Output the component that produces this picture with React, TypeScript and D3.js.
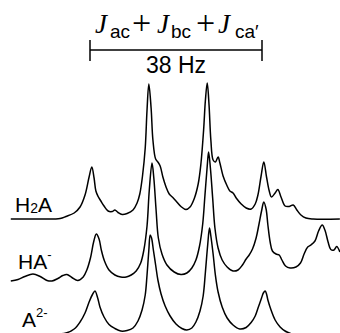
import React from 'react';
import * as d3 from 'd3';

// spectra: [offset in Hz, intensity in a.u.]
const h2a: [number, number][] = [
  [-17.5, 0], [-11.1, 0], [-6.6, 0.5], [-5.3, 2.5], [-3.5, 6], [-2.2, 12], [-1.1, 24],
  [-0.2, 42], [0.4, 52], [0.9, 41], [1.3, 28], [1.8, 22.5], [2.4, 18], [3.1, 13],
  [4.0, 8], [4.9, 7.5], [5.5, 9], [6.2, 6.5], [7.1, 4.5], [8.2, 5.5], [9.5, 9],
  [10.4, 16], [11.0, 25], [11.6, 43], [12.2, 71], [12.6, 109], [13.0, 135], [13.5, 111],
  [13.9, 79], [14.5, 60], [15.0, 57], [15.5, 53], [16.1, 42], [16.8, 32], [17.5, 25],
  [18.3, 21.5], [19.0, 18], [20.1, 12.5], [21.2, 9.5], [22.1, 12], [23.0, 20], [23.9, 35],
  [24.5, 55], [25.1, 89], [25.5, 119], [25.9, 136], [26.3, 114], [26.7, 79], [27.2, 59],
  [27.7, 57], [28.3, 62], [28.7, 56], [29.4, 43], [30.3, 33], [30.9, 28], [31.6, 26],
  [32.3, 21], [33.4, 15], [34.5, 11], [35.6, 10], [36.5, 15], [37.1, 24], [37.8, 43],
  [38.4, 57], [39.0, 42], [39.6, 28], [40.1, 22], [40.9, 26], [41.5, 29.5], [42.2, 22],
  [43.1, 13], [44.0, 12.5], [44.9, 14], [45.7, 9], [46.6, 4], [47.7, 1], [49.3, 0], [55.2, 0],
];

const ha: [number, number][] = [
  [-17.5, 0], [-15.9, 1.5], [-14.4, 4.5], [-12.6, 7], [-11.0, 4.5], [-9.5, 0.5], [-8.4, 0],
  [-7.1, 2.5], [-6.0, 5.5], [-5.1, 6.5], [-4.0, 3.5], [-2.7, 0.5], [-1.5, 4], [-0.7, 11],
  [0.1, 23], [0.8, 39], [1.4, 47], [2.0, 42], [2.5, 31], [3.2, 20], [4.2, 11], [5.5, 6],
  [6.8, 4], [8.0, 4], [9.1, 6], [10.2, 10], [11.2, 18], [11.9, 31], [12.6, 55], [13.1, 91],
  [13.7, 118], [14.1, 103], [14.6, 71], [15.1, 43], [15.9, 27], [17.0, 16], [18.6, 9],
  [20.1, 6.5], [21.4, 8], [22.5, 13], [23.4, 21], [24.2, 35], [24.9, 57], [25.4, 86],
  [25.9, 115], [26.2, 129], [26.6, 113], [27.1, 83], [27.6, 53], [28.3, 33], [29.2, 21],
  [30.3, 14], [31.6, 10], [32.7, 11], [33.6, 15.5], [34.5, 22], [35.1, 25.5], [35.9, 32],
  [36.7, 43], [37.3, 56], [37.9, 70], [38.4, 79], [38.9, 72], [39.3, 56], [39.8, 39],
  [40.3, 30], [41.1, 27], [41.8, 26], [42.4, 21], [43.2, 15], [44.2, 13], [45.5, 14],
  [46.5, 18], [47.3, 27], [48.1, 34], [48.8, 36], [49.7, 40], [50.5, 50], [51.3, 56],
  [51.9, 51], [52.6, 39], [53.2, 31.5], [53.9, 31], [54.5, 34.5], [55.2, 29],
];

const a2: [number, number][] = [
  [-7.1, 0], [-5.3, 1], [-3.5, 5], [-2.2, 12], [-1.1, 21], [-0.2, 32], [0.6, 40], [1.1, 43],
  [1.7, 36], [2.2, 27], [3.1, 17], [4.2, 9.5], [5.5, 5.5], [6.8, 3], [8.2, 3.5], [9.5, 6],
  [10.6, 13], [11.5, 24], [12.2, 39], [12.6, 59], [13.0, 84], [13.3, 99], [13.6, 96],
  [14.0, 84], [14.5, 69], [15.0, 54], [15.7, 40], [16.6, 28], [17.7, 18], [19.0, 10],
  [20.3, 5.5], [21.4, 4], [22.5, 6], [23.4, 12], [24.3, 23], [25.0, 38], [25.5, 62],
  [26.0, 89], [26.4, 106], [26.7, 98], [27.2, 80], [27.7, 59], [28.3, 42], [29.2, 27],
  [30.3, 16], [31.6, 9], [33.1, 5], [34.5, 6.5], [35.6, 11.5], [36.5, 18], [37.2, 27],
  [37.9, 36], [38.3, 41], [38.7, 43], [39.0, 40], [39.3, 34], [40.0, 24], [40.9, 14],
  [42.0, 7], [43.1, 3], [44.6, 0],
];

const couplingSum = 38; // Hz

const traces = [
  { data: h2a, base: 219, label: 'H', sub: '2', tail: 'A', sup: '', lx: 15, ly: 212 },
  { data: ha, base: 281, label: 'HA', sub: '', tail: '', sup: '-', lx: 18, ly: 269 },
  { data: a2, base: 334, label: 'A', sub: '', tail: '', sup: '2-', lx: 22, ly: 327 },
];

const W = 340;
const H = 333;

export default function App() {
  const x = d3.scaleLinear().domain([0, couplingSum]).range([90, 262]);
  const amp = d3.scaleLinear().domain([0, 140]).range([0, 140]);

  const sans = 'Liberation Sans, Arial, Helvetica, sans-serif';
  const serif = 'Liberation Serif, Times New Roman, serif';

  const x0 = x(0);
  const x1 = x(couplingSum);

  return (
    <svg width={W} height={H} style={{ position: 'absolute', left: 0, top: 0, background: '#fff' }}>
      {/* title */}
      <g fill="#000">
        <text x={95} y={33} fontFamily={serif} fontStyle="italic" fontSize={27}>J</text>
        <text x={110} y={38} fontFamily={sans} fontSize={19}>ac</text>
        <text x={132} y={34} fontFamily={serif} fontSize={34}>+</text>
        <text x={157} y={33} fontFamily={serif} fontStyle="italic" fontSize={27}>J</text>
        <text x={171} y={38} fontFamily={sans} fontSize={19}>bc</text>
        <text x={196} y={34} fontFamily={serif} fontSize={34}>+</text>
        <text x={218} y={33} fontFamily={serif} fontStyle="italic" fontSize={27}>J</text>
        <text x={235} y={38} fontFamily={sans} fontSize={19}>ca′</text>
      </g>

      {/* bracket */}
      <g stroke="#000" strokeWidth={1.5}>
        <line x1={x0} x2={x1} y1={50} y2={50} />
        <line x1={x0} x2={x0} y1={40} y2={61} />
        <line x1={x1} x2={x1} y1={40} y2={61} />
      </g>
      <text x={(x0 + x1) / 2} y={73} textAnchor="middle" fontFamily={sans} fontSize={23} fill="#000">
        {couplingSum} Hz
      </text>

      {traces.map((t, i) => {
        const line = d3.line<[number, number]>()
          .x(d => x(d[0]))
          .y(d => t.base - amp(d[1]))
          .curve(d3.curveCatmullRom.alpha(0.5));
        return (
          <g key={i}>
            <path d={line(t.data) || ''} fill="none" stroke="#000" strokeWidth={1.5} strokeLinejoin="round" />
            <text x={t.lx} y={t.ly} fontFamily={sans} fontSize={21} fill="#000">
              {t.label}
              {t.sub && <tspan fontSize={14} dy={1}>{t.sub}</tspan>}
              {t.tail && <tspan dy={t.sub ? -1 : 0}>{t.tail}</tspan>}
              {t.sup && <tspan fontSize={13} dy={-10}>{t.sup}</tspan>}
            </text>
          </g>
        );
      })}
    </svg>
  );
}
